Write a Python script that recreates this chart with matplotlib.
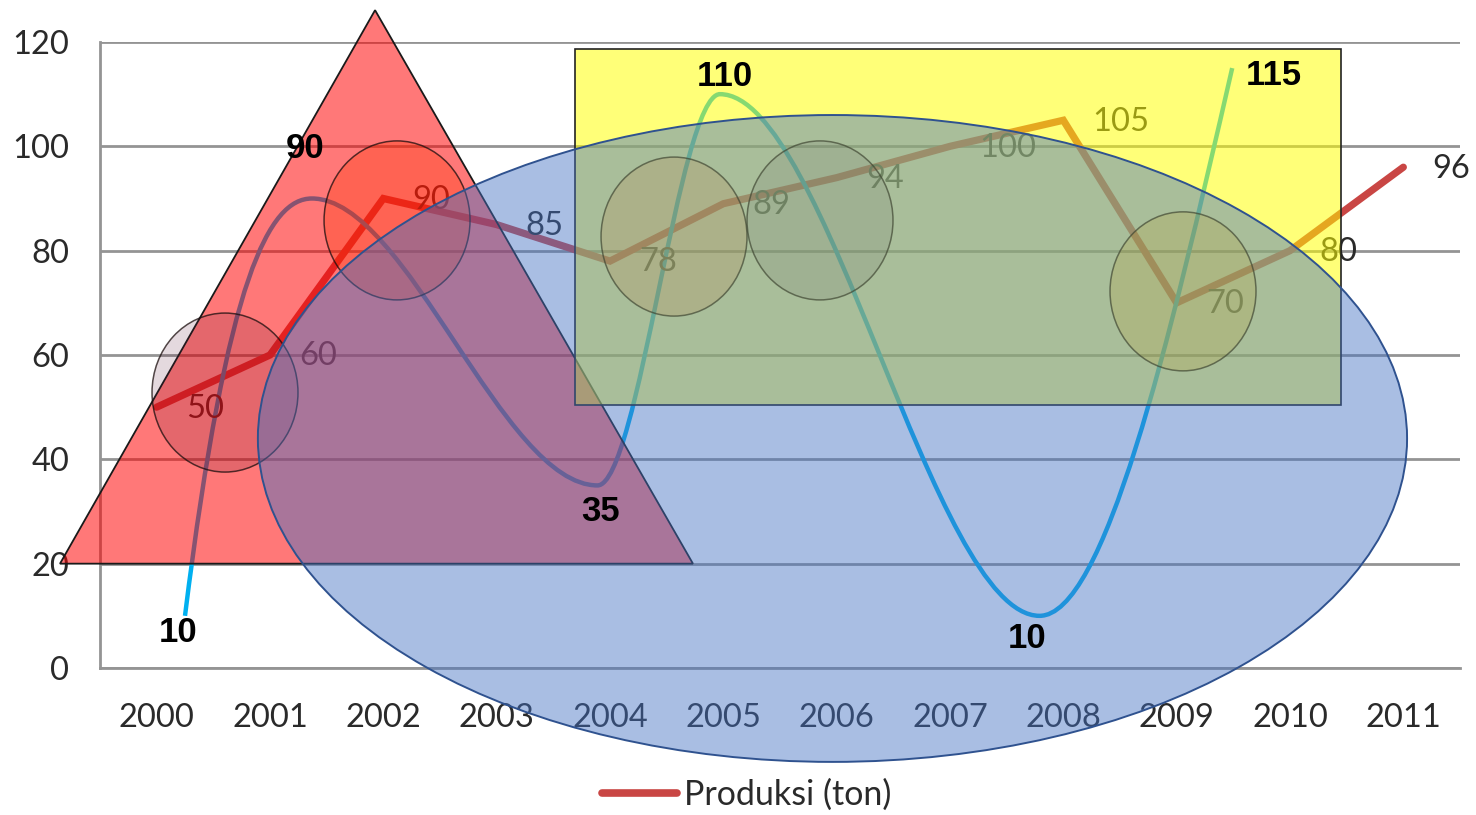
import matplotlib
matplotlib.use("Agg")
import matplotlib.pyplot as plt
from matplotlib.path import Path
from matplotlib.patches import PathPatch, Polygon, Rectangle, Ellipse
from matplotlib.lines import Line2D

# ---- data -------------------------------------------------------------
years = ["2000", "2001", "2002", "2003", "2004", "2005",
         "2006", "2007", "2008", "2009", "2010", "2011"]
produksi = [50, 60, 90, 85, 78, 89, 94, 100, 105, 70, 80, 96]

# wave overlay: turning points (position on the year axis, value)
wave_pos = [0.25, 1.37, 3.89, 4.97, 7.79, 9.49]
wave_val = [10, 90, 35, 110, 10, 115]
# tangent slope at each turning point (value per year step)
wave_slope = [175, 0, 0, 0, 0, 95]

yticks = [0, 20, 40, 60, 80, 100, 120]

# ---- style ------------------------------------------------------------
FONT = "Lato"
BOLD_FONT = "Liberation Sans"
TXT = "#2a2a2a"
RED = "#C94644"
GRID = "#949494"
WAVE = "#00B0F0"
FS = 23.5

fig = plt.figure(figsize=(14.76, 8.15), dpi=100)
ax = fig.add_axes([100 / 1476, 147 / 815, 1360 / 1476, 626 / 815])

xs = list(range(len(years)))
ax.set_xlim(-0.5, len(years) - 0.5)
ax.set_ylim(0, 120)
ax.set_yticks(yticks)
ax.set_xticks(xs)
ax.set_xticklabels(years)
ax.grid(axis="y", color=GRID, lw=2.0)
ax.set_axisbelow(True)
for side in ("top", "right"):
    ax.spines[side].set_visible(False)
for side in ("left", "bottom"):
    ax.spines[side].set_color(GRID)
    ax.spines[side].set_linewidth(2.0)
ax.tick_params(axis="both", length=0, labelsize=FS, labelcolor=TXT)
ax.tick_params(axis="x", pad=25)
ax.tick_params(axis="y", pad=22)
for lab in ax.get_xticklabels() + ax.get_yticklabels():
    lab.set_family(FONT)

# ---- production line with value labels ---------------------------------
ax.plot(xs, produksi, color=RED, lw=5.2, solid_joinstyle="miter",
        solid_capstyle="round", zorder=3)
for i, v in zip(xs, produksi):
    ax.annotate(str(v), (i, v), xytext=(21, -1), textcoords="offset points",
                ha="left", va="center", fontsize=FS, color=TXT,
                family=FONT, zorder=4)

# ---- smooth wave drawn as cubic Bezier segments ------------------------
verts = [(wave_pos[0], wave_val[0])]
codes = [Path.MOVETO]
for k in range(len(wave_pos) - 1):
    x0, y0, m0 = wave_pos[k], wave_val[k], wave_slope[k]
    x1, y1, m1 = wave_pos[k + 1], wave_val[k + 1], wave_slope[k + 1]
    h = x1 - x0
    verts += [(x0 + h / 3, y0 + m0 * h / 3),
              (x1 - h / 3, y1 - m1 * h / 3),
              (x1, y1)]
    codes += [Path.CURVE4] * 3
ax.add_patch(PathPatch(Path(verts, codes), facecolor="none",
                       edgecolor=WAVE, lw=3.2, zorder=3.5))

# ---- translucent shapes -----------------------------------------------
ax.add_patch(Polygon([(-0.853, 20), (1.927, 126.1), (4.732, 20)], closed=True,
                     facecolor=(1, 0, 0, 0.53), edgecolor="#1a1a1a", lw=1.3,
                     zorder=5, clip_on=False))
ax.add_patch(Rectangle((3.691, 50.4), 6.759, 68.26,
                       facecolor=(1, 1, 0, 0.53), edgecolor="#222222", lw=1.2,
                       zorder=6, clip_on=False))

CW, CH = 1.288, 30.48
ax.add_patch(Ellipse((0.603, 52.8), CW, CH, facecolor=(0.35, 0.08, 0.2, 0.16),
                     edgecolor=(0.1, 0.05, 0.05, 0.75), lw=1.1, zorder=7,
                     clip_on=False))
ax.add_patch(Ellipse((2.121, 85.8), CW, CH, facecolor=(1.0, 0.2, 0.0, 0.3),
                     edgecolor=(0.1, 0.05, 0.05, 0.75), lw=1.1, zorder=7,
                     clip_on=False))

ax.add_patch(Ellipse((5.963, 44.0), 10.14, 124.0,
                     facecolor=(0x44 / 255, 0x72 / 255, 0xC4 / 255, 0.46),
                     edgecolor="#2F528F", lw=1.4, zorder=8, clip_on=False))

for (cx, cy), fc in zip([(4.565, 82.7), (5.853, 85.8), (9.056, 72.2)],
                        [(0.78, 0.35, 0.07, 0.12), (0.35, 0.35, 0.35, 0.12),
                         (0.75, 0.56, 0.0, 0.15)]):
    ax.add_patch(Ellipse((cx, cy), CW, CH, facecolor=fc,
                         edgecolor=(0.25, 0.28, 0.2, 0.7), lw=1.1, zorder=9,
                         clip_on=False))

# ---- wave value labels -------------------------------------------------
wave_label_offsets = [(-5, -12), (-5, 36), (2, -19), (3.6, 13),
                      (-9, -16.5), (30, -5)]
for px, pv, off in zip(wave_pos, wave_val, wave_label_offsets):
    ax.annotate(str(pv), (px, pv), xytext=off, textcoords="offset points",
                ha="center", va="center", fontsize=25, fontweight="bold",
                family=BOLD_FONT, color="black", zorder=10,
                annotation_clip=False)

# ---- legend ------------------------------------------------------------
handle = Line2D([], [], color=RED, lw=5.5, solid_capstyle="round")
leg = fig.legend([handle], ["Produksi (ton)"], loc="center",
                 bbox_to_anchor=(747 / 1476, 1 - 795 / 815), frameon=False,
                 prop={"family": FONT, "size": 24.5}, handlelength=2.2,
                 handletextpad=0.2)
for t in leg.get_texts():
    t.set_color(TXT)

fig.savefig("out.png", dpi=100)
